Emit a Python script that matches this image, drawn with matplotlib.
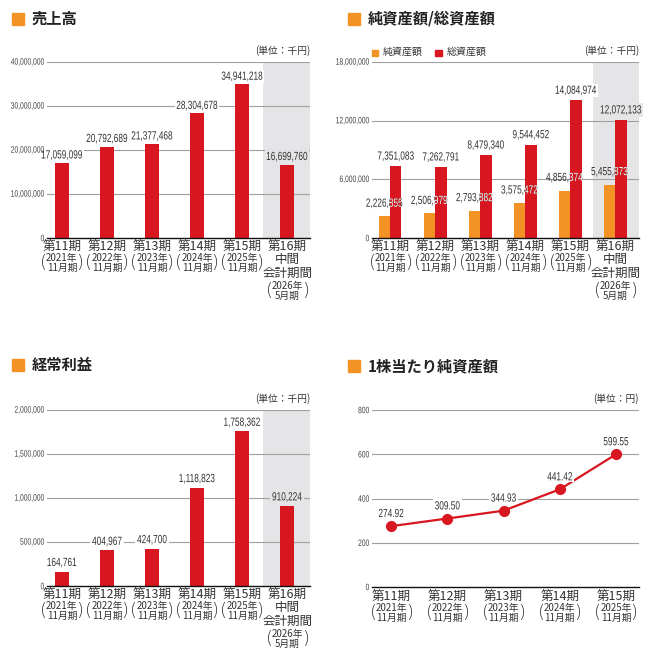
import matplotlib
matplotlib.use('Agg')
import matplotlib.pyplot as plt
import matplotlib.transforms as mtransforms
from matplotlib.font_manager import FontProperties
from matplotlib.patches import Rectangle, PathPatch
from matplotlib.textpath import TextPath

plt.rcParams['font.family'] = ['Noto Sans CJK JP', 'DejaVu Sans']

W, H = 661, 663
RED = '#d7161f'
ORANGE = '#f39325'
BAND = '#e5e5e7'
GRID = '#a0a0a0'
TXT = '#333333'
NUM_FONT = FontProperties(family='Liberation Sans')

# data
periods = ['第11期', '第12期', '第13期', '第14期', '第15期', '第16期']
years = ['2021年', '2022年', '2023年', '2024年', '2025年', '2026年']
months = ['11月期', '11月期', '11月期', '11月期', '11月期', '5月期']
sales = [17059099, 20792689, 21377468, 28304678, 34941218, 16699760]
net_assets = [2226855, 2506979, 2793882, 3575472, 4856374, 5455873]
total_assets = [7351083, 7262791, 8479340, 9544452, 14084974, 12072133]
ordinary_profit = [164761, 404967, 424700, 1118823, 1758362, 910224]
bps = [274.92, 309.50, 344.93, 441.42, 599.55]

fig = plt.figure(figsize=(W / 100, H / 100), dpi=100)


def fx(px):
    return px / W


def fy(py):
    return 1 - py / H


def make_ax(left, top, right, bottom):
    return fig.add_axes([fx(left), fy(bottom), fx(right) - fx(left), fy(top) - fy(bottom)])


def narrow(ax, x, y, s, pt, base, dx=0, dy=0, ha='center', va='bottom', color=TXT,
           squeeze=0.7, bg=None, clip=None):
    '''condensed number text, offsets dx/dy in pixels'''
    tp = TextPath((0, 0), s, size=pt * fig.dpi / 72, prop=NUM_FONT)
    ext = tp.get_extents()
    w = ext.width * squeeze
    ox = {'center': -w / 2, 'right': -w, 'left': 0}[ha] - ext.x0 * squeeze
    oy = {'bottom': -ext.y0, 'center': -(ext.y0 + ext.y1) / 2}[va]
    place = mtransforms.ScaledTranslation(x, y, base)
    tr = mtransforms.Affine2D().scale(squeeze, 1).translate(ox + dx, oy + dy) + place
    if bg is not None:
        x0 = {'center': -w / 2, 'right': -w, 'left': 0}[ha] + dx
        y0 = oy + ext.y0 + dy
        box = Rectangle((x0 - 2, y0 - 2), w + 4, ext.height + 4, fc=bg, ec='none', zorder=4,
                        transform=mtransforms.IdentityTransform() + place)
        ax.add_artist(box)
        box.set_clip_on(False)
    p = PathPatch(tp, fc=color, ec='none', lw=0, zorder=4.5, transform=tr)
    ax.add_artist(p)
    if clip is not None:
        p.set_clip_path(clip)
    else:
        p.set_clip_on(False)
    return p


def title(px, py, text):
    fig.add_artist(Rectangle((fx(px), fy(py + 6)), 12 / W, 12 / H, color=ORANGE,
                             transform=fig.transFigure))
    fig.text(fx(px + 20), fy(py), text, fontsize=11, fontweight='bold', color='#222222',
             va='center', ha='left')


def style(ax, ymax, step, xlim, unit, fmt):
    ax.set_xlim(*xlim)
    ax.set_ylim(0, ymax)
    ticks = list(range(0, int(ymax) + 1, int(step)))
    ax.set_yticks([])
    ax.set_xticks([])
    for t in ticks[1:]:
        ax.axhline(t, color=GRID, lw=0.8, zorder=1)
    for t in ticks:
        narrow(ax, 0, t, fmt(t), 6.7, ax.get_yaxis_transform(), dx=-3, ha='right', va='center',
               color='#444444', squeeze=0.72)
    for s in ['top', 'right', 'left']:
        ax.spines[s].set_visible(False)
    ax.spines['bottom'].set_color('#111111')
    ax.spines['bottom'].set_linewidth(1.0)
    ax.spines['bottom'].set_zorder(5)
    ax.text(1.0, 1.035, '(単位：' + unit + ')', transform=ax.transAxes, ha='right', va='bottom',
            fontsize=7, color=TXT)


def cat_labels(ax, xs, n_long=None, top=9):
    tr = ax.get_xaxis_transform()

    def put(s, x, dx, dy, size, **kw):
        ax.annotate(s, (x, 0), xycoords=tr, xytext=(dx * 0.72, -dy * 0.72),
                    textcoords='offset points', ha='center', va='center', fontsize=size,
                    color=TXT, annotation_clip=False, **kw)

    for i, x in enumerate(xs):
        if i == n_long:
            main = [(periods[i], top), ('中間', top + 12), ('会計期間', top + 26)]
            sub_y = top + 39
        else:
            main = [(periods[i], top)]
            sub_y = top + 11
        for s, dy in main:
            put(s, x, 0, dy, 9)
        put(years[i], x, 0, sub_y, 7)
        put(months[i], x, 0, sub_y + 10, 7)
        for p, dx in (('(', -18), (')', 18)):
            put(p, x, dx, sub_y + 5, 13, family='DejaVu Sans', fontweight='light')


thousands = lambda v: f'{int(v):,}'
xs = list(range(len(periods)))
VAL = 8.5

# 売上高
title(12, 19, '売上高')
ax1 = make_ax(47, 62, 310, 238)
style(ax1, 40000000, 10000000, (-0.33, 5.51), '千円', thousands)
ax1.axvspan(4.47, 5.51, color=BAND, zorder=0, lw=0)
ax1.bar(xs, sales, width=0.31, color=RED, zorder=3)
for i, v in enumerate(sales):
    narrow(ax1, i, v, f'{v:,}', VAL, ax1.transData, dy=3, bg=BAND if i == 5 else 'white')
cat_labels(ax1, xs, n_long=5)

# 純資産額/総資産額
title(348, 19, '純資産額/総資産額')
ax2 = make_ax(372, 62, 639, 238)
style(ax2, 18000000, 6000000, (-0.4, 5.53), '千円', thousands)
ax2.axvspan(4.51, 5.53, color=BAND, zorder=0, lw=0)
bw = 0.255
xo = [x - bw / 2 for x in xs]
xr = [x + bw / 2 for x in xs]
ax2.bar(xo, net_assets, width=bw, color=ORANGE, zorder=3)
red_bars = ax2.bar(xr, total_assets, width=bw, color=RED, zorder=3)
for i, v in enumerate(total_assets):
    narrow(ax2, xr[i], v, f'{v:,}', VAL, ax2.transData, dy=5, bg=BAND if i == 5 else 'white')
for i, v in enumerate(net_assets):
    narrow(ax2, xo[i], v, f'{v:,}', VAL, ax2.transData, dy=8)
    narrow(ax2, xo[i], v, f'{v:,}', VAL, ax2.transData, dy=8, color='white', clip=red_bars[i])
for x0, col, name in ((0.0, ORANGE, '純資産額'), (0.237, RED, '総資産額')):
    ax2.add_patch(Rectangle((x0, 1.035), 0.024, 0.036, color=col, transform=ax2.transAxes,
                            clip_on=False))
    ax2.text(x0 + 0.042, 1.03, name, transform=ax2.transAxes, color=TXT, fontsize=7.2,
             va='bottom', ha='left')
cat_labels(ax2, xs, n_long=5)

# 経常利益
title(12, 365, '経常利益')
ax3 = make_ax(47, 410, 310, 586)
style(ax3, 2000000, 500000, (-0.33, 5.51), '千円', thousands)
ax3.axvspan(4.47, 5.51, color=BAND, zorder=0, lw=0)
ax3.bar(xs, ordinary_profit, width=0.31, color=RED, zorder=3)
for i, v in enumerate(ordinary_profit):
    narrow(ax3, i, v, f'{v:,}', VAL, ax3.transData, dy=4, bg=BAND if i == 5 else 'white')
cat_labels(ax3, xs, n_long=5)

# 1株当たり純資産額
title(348, 366, '1株当たり純資産額')
ax4 = make_ax(372, 410, 639, 587)
style(ax4, 800, 200, (-0.34, 4.41), '円', lambda v: f'{int(v)}')
x4 = xs[:len(bps)]
ax4.plot(x4, bps, color=RED, lw=1.6, marker='o', markersize=7, zorder=3)
for i, v in enumerate(bps):
    narrow(ax4, i, v, f'{v:.2f}', VAL, ax4.transData, dy=9, bg='white')
cat_labels(ax4, x4, top=10)

fig.savefig('out.png', dpi=100)
